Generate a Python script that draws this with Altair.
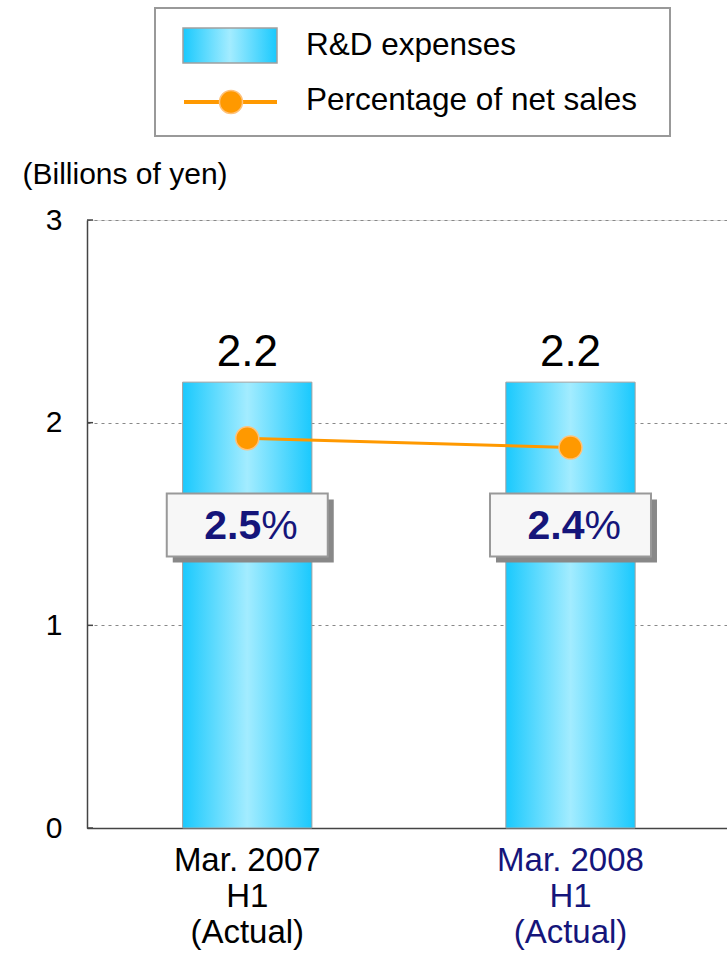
import altair as alt
import pandas as pd

categories = ["Mar. 2007|H1|(Actual)", "Mar. 2008|H1|(Actual)"]
rd_expenses = [2.2, 2.2]
pct_of_sales = [2.50, 2.44]
pct_labels = ["2.5", "2.4"]
y_ticks = [0, 1, 2, 3]

df = pd.DataFrame({
    "cat": categories,
    "rd": rd_expenses,
    "pct": pct_of_sales,
    "pct_label": pct_labels,
    "rd_label": [f"{v:.1f}" for v in rd_expenses],
})

FONT = "Liberation Sans"
NAVY = "#15157a"
ORANGE = "#ff9900"

grad = alt.Gradient(
    gradient="linear",
    stops=[
        alt.GradientStop(color="#1ac9fd", offset=0),
        alt.GradientStop(color="#a3ecff", offset=0.5),
        alt.GradientStop(color="#1ac9fd", offset=1),
    ],
    x1=0, x2=1, y1=0, y2=0,
)

x_scale = alt.Scale(paddingInner=0.6, paddingOuter=0.29, align=0.51)
x_plain = alt.X("cat:N", sort=categories, scale=x_scale)

x_enc = alt.X(
    "cat:N",
    sort=categories,
    scale=x_scale,
    axis=alt.Axis(
        title=None,
        labelAngle=0,
        labelExpr="split(datum.label, '|')",
        labelFont=FONT,
        labelFontSize=33,
        labelLineHeight=36,
        labelBaseline="top",
        labelPadding=16,
        labelColor=alt.ExprRef(expr="indexof(datum.value, '2008') >= 0 ? '#15157a' : 'black'"),
        ticks=False,
        domainColor="#444",
        domainWidth=1.5,
        grid=False,
    ),
)

y_scale = alt.Scale(domain=[0, 3], nice=False)

base = alt.Chart(df)

bars = base.mark_bar(color=grad, stroke="#a0a0a0", strokeWidth=1).encode(
    x=x_enc,
    y=alt.Y(
        "rd:Q",
        scale=y_scale,
        axis=alt.Axis(
            values=y_ticks,
            format="d",
            title="(Billions of yen)",
            titleAngle=0,
            titleAlign="left",
            titleBaseline="middle",
            titleX=-65,
            titleY=-46,
            titleFont=FONT,
            titleFontSize=30,
            titleFontWeight="normal",
            titleColor="black",
            labelFont=FONT,
            labelFontSize=30,
            labelColor="black",
            labelPadding=25,
            ticks=False,
            domainColor="#444",
            domainWidth=1.5,
            grid=True,
            gridColor="#888",
            gridDash=[3, 4],
            gridWidth=1.2,
        ),
    ),
)

inner_ticks = alt.Chart(pd.DataFrame({"t": y_ticks})).mark_rule(color="#444", strokeWidth=1.5).encode(
    x=alt.value(0), x2=alt.value(6), y=alt.Y("t:Q", scale=y_scale)
)

rd_text = base.mark_text(
    font=FONT, fontSize=44, baseline="alphabetic", dy=-16, color="black"
).encode(x=x_plain, y=alt.Y("rd:Q", scale=y_scale), text="rd_label:N")

line = base.mark_line(color=ORANGE, strokeWidth=3).transform_calculate(
    ypos="datum.pct / 1.3"
).encode(x=x_plain, y=alt.Y("ypos:Q", scale=y_scale))

points = base.mark_point(
    shape="circle", filled=True, size=530, fill=ORANGE, stroke="#ffc27a", strokeWidth=1.5, opacity=1
).transform_calculate(ypos="datum.pct / 1.3").encode(
    x=x_plain, y=alt.Y("ypos:Q", scale=y_scale)
)

shadow = base.mark_bar(
    width=161, color="#888888", xOffset=6, x2Offset=6, yOffset=6, y2Offset=6
).encode(x=x_plain, y=alt.datum(1.65), y2=alt.datum(1.34))
box = base.mark_bar(width=161, fill="#f7f7f7", stroke="#999999", strokeWidth=2).encode(
    x=x_plain, y=alt.datum(1.65), y2=alt.datum(1.34)
)
pct_num = base.mark_text(
    font=FONT, fontSize=41, fontWeight="bold", color=NAVY, align="right", baseline="middle", dx=14, dy=2
).encode(x=x_plain, y=alt.datum(1.495), text="pct_label:N")
pct_sign = base.mark_text(
    font=FONT, fontSize=41, color=NAVY, align="left", baseline="middle", dx=14, dy=2
).encode(x=x_plain, y=alt.datum(1.495), text=alt.value("%"))

# Legend (drawn manually)
one = alt.Chart(pd.DataFrame({"k": [0]}))
leg_box = one.mark_rect(fill="white", stroke="#999999", strokeWidth=2).encode(
    x=alt.value(68), x2=alt.value(583), y=alt.value(-212), y2=alt.value(-84)
)
leg_swatch = one.mark_rect(fill=grad, stroke="#a0a0a0", strokeWidth=1.5).encode(
    x=alt.value(96), x2=alt.value(190), y=alt.value(-192), y2=alt.value(-157)
)
leg_text1 = one.mark_text(font=FONT, fontSize=31.5, align="left", baseline="middle", color="black").encode(
    x=alt.value(219), y=alt.value(-174), text=alt.value("R&D expenses")
)
leg_line = one.mark_rule(color=ORANGE, strokeWidth=4).encode(
    x=alt.value(97), x2=alt.value(190), y=alt.value(-118)
)
leg_point = one.mark_point(
    shape="circle", filled=True, size=530, fill=ORANGE, stroke="#ffc27a", strokeWidth=1.5, opacity=1
).encode(x=alt.value(144), y=alt.value(-118))
leg_text2 = one.mark_text(font=FONT, fontSize=31.5, align="left", baseline="middle", color="black").encode(
    x=alt.value(219), y=alt.value(-119), text=alt.value("Percentage of net sales")
)

chart = alt.layer(
    bars, inner_ticks, rd_text, line, points, shadow, box, pct_num, pct_sign,
    leg_box, leg_swatch, leg_text1, leg_line, leg_point, leg_text2,
).properties(
    width=640,
    height=608,
    autosize=alt.AutoSizeParams(type="none"),
    padding={"left": 87, "top": 220, "right": 0, "bottom": 129},
).configure_view(stroke=None).configure(background="white")

chart.save("out.html", embed_options={"renderer": "svg", "actions": False})
